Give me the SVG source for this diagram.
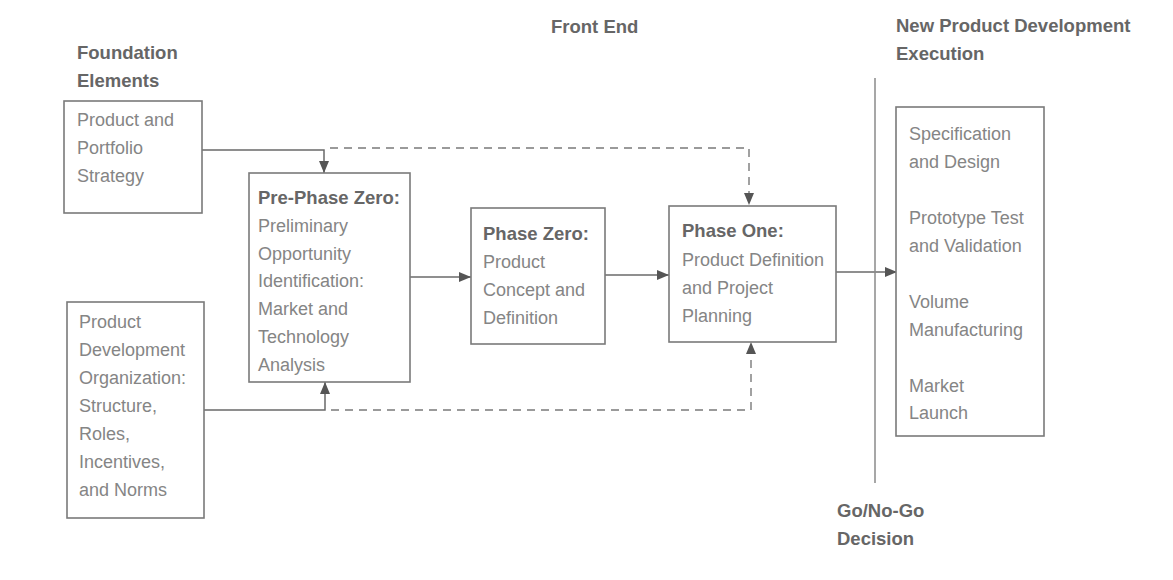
<svg xmlns="http://www.w3.org/2000/svg" width="1173" height="580" viewBox="0 0 1173 580">
<defs>
<style>
.box{fill:#fff;stroke:#7a7a7a;stroke-width:1.6}
.t{font-family:"Liberation Sans",Arial,sans-serif;font-size:18px;fill:#858585}
.b{font-family:"Liberation Sans",Arial,sans-serif;font-size:18.5px;font-weight:bold;fill:#666}
.ln{fill:none;stroke:#6a6a6a;stroke-width:1.5}
.dl{fill:none;stroke:#7a7a7a;stroke-width:1.4;stroke-dasharray:8 6}
</style>
<marker id="ah" markerUnits="userSpaceOnUse" markerWidth="14" markerHeight="12" refX="12" refY="5" orient="auto">
<path d="M0,0 L12,5 L0,10 Z" fill="#555"/>
</marker>
</defs>
<rect width="1173" height="580" fill="#fff"/>
<g id="headers">
<text class="b" x="77" y="59">Foundation</text>
<text class="b" x="77" y="87">Elements</text>
<text class="b" x="551" y="33">Front End</text>
<text class="b" x="896" y="32">New Product Development</text>
<text class="b" x="896" y="60">Execution</text>
</g>
<g id="connectors">
<polyline class="ln" points="202,150 324,150 324,173" marker-end="url(#ah)"/>
<polyline class="dl" points="330,148 749,148 749,205" marker-end="url(#ah)"/>
<polyline class="ln" points="204,410 325,410 325,382" marker-end="url(#ah)"/>
<polyline class="dl" points="331,410 751,410 751,342" marker-end="url(#ah)"/>
<line class="ln" x1="410" y1="277" x2="471" y2="277" marker-end="url(#ah)"/>
<line class="ln" x1="605" y1="275" x2="669" y2="275" marker-end="url(#ah)"/>
<line class="ln" x1="836" y1="272" x2="897" y2="272" marker-end="url(#ah)"/>
</g>
<g id="divider">
<line x1="875" y1="78" x2="875" y2="483" stroke="#8a8a8a" stroke-width="1.5"/>
<text class="b" x="837" y="517">Go/No-Go</text>
<text class="b" x="837" y="545">Decision</text>
</g>
<g id="portfolio">
<rect class="box" x="64" y="101" width="138" height="112"/>
<text class="t" x="77" y="126">Product and</text>
<text class="t" x="77" y="154">Portfolio</text>
<text class="t" x="77" y="182">Strategy</text>
</g>
<g id="organization">
<rect class="box" x="67" y="302" width="137" height="216"/>
<text class="t" x="79" y="328">Product</text>
<text class="t" x="79" y="356">Development</text>
<text class="t" x="79" y="384">Organization:</text>
<text class="t" x="79" y="412">Structure,</text>
<text class="t" x="79" y="440">Roles,</text>
<text class="t" x="79" y="468">Incentives,</text>
<text class="t" x="79" y="496">and Norms</text>
</g>
<g id="prephase">
<rect class="box" x="249" y="173" width="161" height="209"/>
<text class="b" x="258" y="204">Pre-Phase Zero:</text>
<text class="t" x="258" y="232">Preliminary</text>
<text class="t" x="258" y="260">Opportunity</text>
<text class="t" x="258" y="287">Identification:</text>
<text class="t" x="258" y="315">Market and</text>
<text class="t" x="258" y="343">Technology</text>
<text class="t" x="258" y="371">Analysis</text>
</g>
<g id="phasezero">
<rect class="box" x="471" y="208" width="134" height="136"/>
<text class="b" x="483" y="240">Phase Zero:</text>
<text class="t" x="483" y="268">Product</text>
<text class="t" x="483" y="296">Concept and</text>
<text class="t" x="483" y="324">Definition</text>
</g>
<g id="phaseone">
<rect class="box" x="669" y="206" width="167" height="136"/>
<text class="b" x="682" y="237">Phase One:</text>
<text class="t" x="682" y="266">Product Definition</text>
<text class="t" x="682" y="294">and Project</text>
<text class="t" x="682" y="322">Planning</text>
</g>
<g id="execution">
<rect class="box" x="896" y="107" width="148" height="329"/>
<text class="t" x="909" y="140">Specification</text>
<text class="t" x="909" y="168">and Design</text>
<text class="t" x="909" y="224">Prototype Test</text>
<text class="t" x="909" y="252">and Validation</text>
<text class="t" x="909" y="308">Volume</text>
<text class="t" x="909" y="336">Manufacturing</text>
<text class="t" x="909" y="392">Market</text>
<text class="t" x="909" y="419">Launch</text>
</g>
</svg>
